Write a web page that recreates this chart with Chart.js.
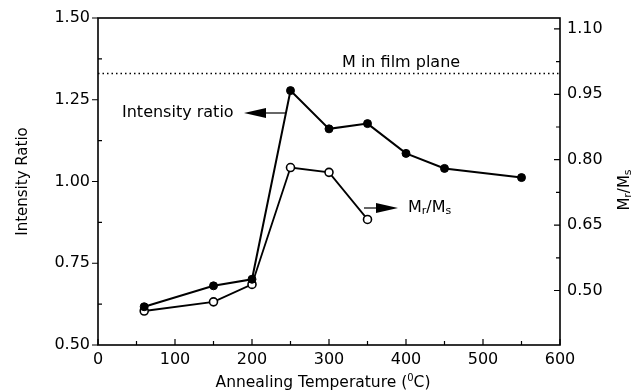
<!DOCTYPE html>
<html>
<head>
<meta charset="utf-8">
<script src="https://cdn.jsdelivr.net/npm/chart.js@4/dist/chart.umd.min.js"></script>
<style>
  html, body { margin: 0; padding: 0; background: #fff; }
  #wrap { width: 635px; height: 391px; }
</style>
</head>
<body>
<div id="wrap"><canvas id="c" width="635" height="391"></canvas></div>
<script>
// ---- data ----
const temps = [60, 150, 200, 250, 300, 350, 400, 450, 550];
const intensityRatio = [0.617, 0.681, 0.701, 1.278, 1.161, 1.177, 1.086, 1.040, 1.012];
const mrTemps = [60, 150, 200, 250, 300, 350];
const mrMs = [0.453, 0.474, 0.514, 0.782, 0.771, 0.663];
const filmPlaneLevel = 1.33;

// ---- ticks ----
const xTicks = [0, 100, 200, 300, 400, 500, 600];
const xMinor = [50, 150, 250, 350, 450, 550];
const leftTicks = [0.50, 0.75, 1.00, 1.25, 1.50];
const leftMinor = [0.625, 0.875, 1.125, 1.375];
const rightTicks = [0.50, 0.65, 0.80, 0.95, 1.10];
const rightMinor = [0.575, 0.725, 0.875, 1.025];

const FONT = "'DejaVu Sans', sans-serif";

const decor = {
  id: 'decor',
  afterDraw(chart) {
    const ctx = chart.ctx;
    const {left, right, top, bottom} = chart.chartArea;
    const sx = chart.scales.x, sy = chart.scales.y, sy2 = chart.scales.y2;
    ctx.save();
    ctx.strokeStyle = '#000';
    ctx.lineWidth = 1.6;
    ctx.strokeRect(left, top, right - left, bottom - top);
    ctx.lineWidth = 1.2;
    ctx.beginPath();
    leftTicks.forEach(v => { const p = sy.getPixelForValue(v); ctx.moveTo(left - 6, p); ctx.lineTo(left, p); });
    leftMinor.forEach(v => { const p = sy.getPixelForValue(v); ctx.moveTo(left, p); ctx.lineTo(left + 4, p); });
    rightTicks.forEach(v => { const p = sy2.getPixelForValue(v); ctx.moveTo(right - 6, p); ctx.lineTo(right, p); });
    rightMinor.forEach(v => { const p = sy2.getPixelForValue(v); ctx.moveTo(right - 4, p); ctx.lineTo(right, p); });
    xTicks.forEach(v => { const p = sx.getPixelForValue(v); ctx.moveTo(p, bottom); ctx.lineTo(p, bottom - 6); });
    xMinor.forEach(v => { const p = sx.getPixelForValue(v); ctx.moveTo(p, bottom); ctx.lineTo(p, bottom - 4); });
    ctx.stroke();

    ctx.fillStyle = '#000';
    // Left axis title
    ctx.save();
    ctx.translate(23, (top + bottom) / 2);
    ctx.rotate(-Math.PI / 2);
    ctx.font = '15px ' + FONT;
    ctx.textAlign = 'center';
    ctx.textBaseline = 'middle';
    ctx.fillText('Intensity Ratio', 0, 0);
    ctx.restore();

    // Right axis title M_r/M_s
    ctx.save();
    ctx.translate(625, 190);
    ctx.rotate(-Math.PI / 2);
    ctx.textBaseline = 'middle';
    const parts = [['M', 15, 0], ['r', 11, 3], ['/', 15, 0], ['M', 15, 0], ['s', 11, 3]];
    let w = 0;
    parts.forEach(p => { ctx.font = p[1] + 'px ' + FONT; w += ctx.measureText(p[0]).width; });
    let x0 = -w / 2;
    ctx.textAlign = 'left';
    parts.forEach(p => { ctx.font = p[1] + 'px ' + FONT; ctx.fillText(p[0], x0, p[2]); x0 += ctx.measureText(p[0]).width; });
    ctx.restore();

    // X axis title with superscript
    ctx.save();
    ctx.textBaseline = 'alphabetic';
    const xp = [['Annealing Temperature (', 15.5, 0], ['0', 10, -6], ['C)', 15.5, 0]];
    let xw = 0;
    xp.forEach(p => { ctx.font = p[1] + 'px ' + FONT; xw += ctx.measureText(p[0]).width; });
    let xx = (left + right) / 2 - xw / 2 - 6;
    xp.forEach(p => { ctx.font = p[1] + 'px ' + FONT; ctx.fillText(p[0], xx, 387 + p[2]); xx += ctx.measureText(p[0]).width; });
    ctx.restore();

    // M in film plane label
    ctx.font = '16px ' + FONT;
    ctx.textAlign = 'left';
    ctx.textBaseline = 'middle';
    ctx.fillText('M in film plane', 342, 63);

    // Intensity ratio annotation with arrow pointing left
    ctx.fillText('Intensity ratio', 122, 113);
    ctx.lineWidth = 1.2;
    ctx.beginPath(); ctx.moveTo(262, 113); ctx.lineTo(286, 113); ctx.stroke();
    ctx.beginPath(); ctx.moveTo(244, 113); ctx.lineTo(266, 108); ctx.lineTo(266, 118); ctx.closePath(); ctx.fill();

    // Mr/Ms annotation with arrow pointing right
    ctx.beginPath(); ctx.moveTo(364, 208); ctx.lineTo(380, 208); ctx.stroke();
    ctx.beginPath(); ctx.moveTo(398, 208); ctx.lineTo(376, 203); ctx.lineTo(376, 213); ctx.closePath(); ctx.fill();
    const ap = [['M', 16, 0], ['r', 11, 3], ['/', 16, 0], ['M', 16, 0], ['s', 11, 3]];
    let ax = 408;
    ap.forEach(p => { ctx.font = p[1] + 'px ' + FONT; ctx.fillText(p[0], ax, 208 + p[2]); ax += ctx.measureText(p[0]).width; });
    ctx.restore();
  }
};

new Chart(document.getElementById('c'), {
  type: 'line',
  data: {
    datasets: [
      {
        label: 'M in film plane',
        data: [{x: 0, y: filmPlaneLevel}, {x: 600, y: filmPlaneLevel}],
        yAxisID: 'y',
        borderColor: '#000',
        borderWidth: 1.5,
        borderDash: [1.5, 3],
        pointRadius: 0,
        fill: false
      },
      {
        label: 'Intensity ratio',
        data: temps.map((t, i) => ({x: t, y: intensityRatio[i]})),
        yAxisID: 'y',
        borderColor: '#000',
        borderWidth: 2,
        pointRadius: 4,
        pointBackgroundColor: '#000',
        pointBorderColor: '#000',
        pointBorderWidth: 1,
        fill: false
      },
      {
        label: 'Mr/Ms',
        data: mrTemps.map((t, i) => ({x: t, y: mrMs[i]})),
        yAxisID: 'y2',
        borderColor: '#000',
        borderWidth: 1.8,
        pointRadius: 4,
        pointBackgroundColor: '#fff',
        pointBorderColor: '#000',
        pointBorderWidth: 1.6,
        fill: false
      }
    ]
  },
  options: {
    responsive: false,
    animation: false,
    layout: { padding: { top: 18, left: 0, right: 0, bottom: 0 } },
    plugins: { legend: { display: false }, tooltip: { enabled: false } },
    scales: {
      x: {
        type: 'linear', min: 0, max: 600,
        afterBuildTicks: s => { s.ticks = xTicks.map(v => ({value: v})); },
        ticks: { color: '#000', font: { family: FONT, size: 16 }, padding: 5, maxRotation: 0 },
        grid: { display: false, drawTicks: false },
        border: { display: false },
        afterFit: s => { s.height = 46; }
      },
      y: {
        position: 'left', min: 0.5, max: 1.5,
        afterBuildTicks: s => { s.ticks = leftTicks.map(v => ({value: v})); },
        ticks: { color: '#000', font: { family: FONT, size: 16 }, padding: 8, callback: v => v.toFixed(2) },
        grid: { display: false, drawTicks: false },
        border: { display: false },
        afterFit: s => { s.width = 98; }
      },
      y2: {
        position: 'right', min: 0.375, max: 1.125,
        afterBuildTicks: s => { s.ticks = rightTicks.map(v => ({value: v})); },
        ticks: { color: '#000', font: { family: FONT, size: 16 }, padding: 7, callback: v => v.toFixed(2) },
        grid: { display: false, drawTicks: false },
        border: { display: false },
        afterFit: s => { s.width = 75; }
      }
    }
  },
  plugins: [decor]
});
</script>
</body>
</html>
